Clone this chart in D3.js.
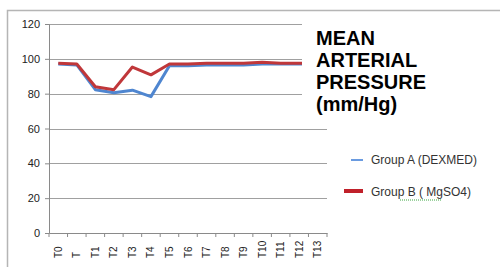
<!DOCTYPE html>
<html>
<head>
<meta charset="utf-8">
<script src="https://cdn.jsdelivr.net/npm/d3@7"></script>
<style>
  body { margin: 0; background: #fff; }
  svg { display: block; font-family: "Liberation Sans", Arial, sans-serif; }
</style>
</head>
<body>
<svg class="chart" width="500" height="267"></svg>
<script>
var categories = ["T0", "T", "T1", "T2", "T3", "T4", "T5", "T6", "T7", "T8", "T9", "T10", "T11", "T12", "T13"]
var groupA = [97, 96.5, 82.3, 80.5, 82, 78.3, 96, 96, 96.5, 96.5, 96.5, 97, 97, 97, 97]
var groupB = [97.5, 97, 84, 82.3, 95.3, 90.8, 97, 97, 97.5, 97.5, 97.5, 98, 97.5, 97.5, 97.5]
var yTicks = [0, 20, 40, 60, 80, 100, 120]
var seriesNames = ["Group A (DEXMED)", "Group B ( MgSO4)"]
var titleLines = ["MEAN", "ARTERIAL", "PRESSURE", "(mm/Hg)"]

var margin = {top: 24, left: 49},
    width  = 278,
    height = 209

var chart = d3.select(".chart")

// outer frame (only top and left edges visible)
chart.append("path")
  .attr("d", "M7.5,267 V10.5 H500")
  .attr("fill", "none")
  .attr("stroke", "#b5b5b5")
  .attr("stroke-width", 1.5)

var x = d3.scaleBand().domain(categories).range([0, width])
var y = d3.scaleLinear().domain([0, 120]).range([height, 0])

var g = chart.append("g").attr("transform", "translate(" + margin.left + "," + margin.top + ")")

// gridlines
g.selectAll(".grid").data(yTicks.filter(function(d) { return d > 0 }))
  .enter().append("line")
  .attr("x1", 0).attr("x2", width)
  .attr("y1", function(d) { return Math.round(y(d)) + 0.5 })
  .attr("y2", function(d) { return Math.round(y(d)) + 0.5 })
  .attr("stroke", "#a0a0a0")

var yAxis = g.append("g")
  .call(d3.axisLeft(y).tickValues(yTicks).tickSize(4).tickPadding(5))
yAxis.select(".domain").attr("stroke", "#8a8a8a")
yAxis.selectAll(".tick line").attr("stroke", "#8a8a8a")
yAxis.selectAll("text").attr("font-size", 11).attr("fill", "#222")

var xAxis = g.append("g").attr("transform", "translate(0," + height + ")")
  .call(d3.axisBottom(x).tickSize(0))
xAxis.select(".domain").attr("stroke", "#8a8a8a")
xAxis.selectAll(".tick text")
  .attr("font-size", 10).attr("fill", "#222")
  .attr("transform", "rotate(-90)")
  .attr("text-anchor", "start")
  .attr("x", -25).attr("y", 0).attr("dy", "0.35em")

// tick marks between categories
g.selectAll(".xt").data(d3.range(categories.length + 1))
  .enter().append("line")
  .attr("x1", function(i) { return i * x.step() })
  .attr("x2", function(i) { return i * x.step() })
  .attr("y1", height).attr("y2", height + 4)
  .attr("stroke", "#8a8a8a")

var line = d3.line()
  .x(function(d, i) { return x(categories[i]) + x.bandwidth() / 2 })
  .y(function(d) { return y(d) })

g.append("path").datum(groupA)
  .attr("d", line).attr("fill", "none")
  .attr("stroke", "#4f86d0").attr("stroke-width", 3).attr("stroke-linejoin", "round")
g.append("path").datum(groupB)
  .attr("d", line).attr("fill", "none")
  .attr("stroke", "#c0373a").attr("stroke-width", 3).attr("stroke-linejoin", "round")

// title box covers the right edge of the plot
chart.append("rect").attr("x", 302).attr("y", 18).attr("width", 198).attr("height", 104).attr("fill", "#fff")
chart.append("g").selectAll("text").data(titleLines)
  .enter().append("text")
  .attr("x", 316).attr("y", function(d, i) { return 45 + i * 22 })
  .attr("font-size", 20).attr("font-weight", "bold").attr("fill", "#000")
  .text(function(d) { return d })

// legend
var legend = chart.append("g")
legend.append("line").attr("x1", 351).attr("x2", 363).attr("y1", 160).attr("y2", 160)
  .attr("stroke", "#6a9be0").attr("stroke-width", 2)
legend.append("line").attr("x1", 344).attr("x2", 363).attr("y1", 191).attr("y2", 191)
  .attr("stroke", "#c0202a").attr("stroke-width", 4)
legend.selectAll("text").data(seriesNames)
  .enter().append("text")
  .attr("x", 371).attr("y", function(d, i) { return 160 + i * 32 })
  .attr("dy", "0.35em")
  .attr("font-size", 12).attr("fill", "#333")
  .text(function(d) { return d })
legend.append("line").attr("x1", 400).attr("x2", 442).attr("y1", 200).attr("y2", 200)
  .attr("stroke", "#3aa640").attr("stroke-width", 1).attr("stroke-dasharray", "1,1")
</script>
</body>
</html>
